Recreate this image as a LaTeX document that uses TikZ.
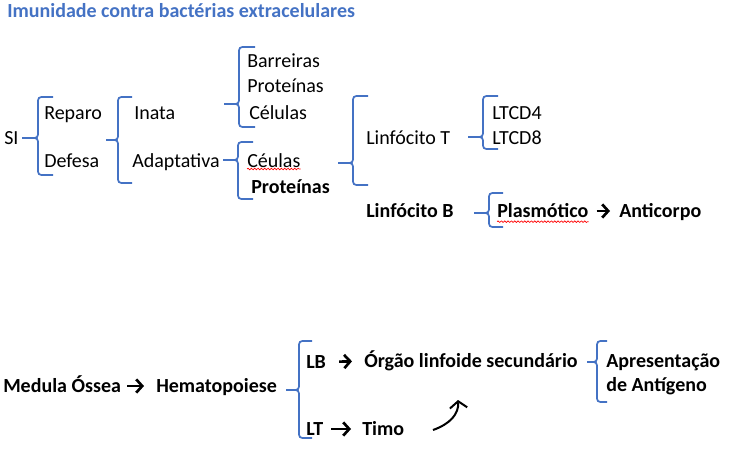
\documentclass[tikz,border=0pt]{standalone}
\usepackage{fontspec}
\setmainfont{Carlito}
\usetikzlibrary{arrows.meta,decorations.pathmorphing}
\definecolor{azul}{HTML}{4472C4}
\begin{document}
\begin{tikzpicture}[x=0.75pt,y=-0.75pt,
	texto/.style={inner sep=0pt,anchor=base west,font=\fontsize{15}{18}\selectfont,text height=11pt,text depth=2pt},
	negrito/.style={texto,font=\fontsize{15}{18}\selectfont\bfseries},
	chave/.style={azul,line width=1.3pt,rounded corners=2.5pt},
	seta/.style={line width=2pt,-{Straight Barb[length=4.5pt,width=10pt,line join=miter]}},
	curva/.style={line width=1.5pt,-{Straight Barb[length=5pt,width=13pt]}},
	sublinhado/.style={red,line width=0.5pt,decorate,decoration={snake,amplitude=0.6pt,segment length=2.5pt}}]
\def\chave#1#2#3#4#5#6{% ponta, vertical, fim, topo, meio, base
	\draw[chave] (#3,#4) -| (#2,#5) -- (#1,#5);
	\draw[chave] (#1,#5) -- (#2,#5) |- (#3,#6);}
\useasboundingbox (0,0) rectangle (731,467);
\node[negrito,text=azul] (titulo) at (7,18) {Imunidade contra bactérias extracelulares};
% parte de cima
\node[texto] (si) at (4,144) {SI};
\node[texto] (reparo) at (44,119) {Reparo};
\node[texto] (defesa) at (44,167) {Defesa};
\node[texto] (inata) at (134,119) {Inata};
\node[texto] (adapt) at (132,167) {Adaptativa};
\node[texto] (barreiras) at (247,68) {Barreiras};
\node[texto] (proteinas) at (247,93) {Proteínas};
\node[texto] (celulas) at (249,119) {Células};
\node[texto] (ceulas) at (247,167) {Céulas};
\node[negrito] (proteinasb) at (251,193) {Proteínas};
\node[texto] (linfT) at (366,144) {Linfócito T};
\node[texto] (ltcd4) at (492,119) {LTCD4};
\node[texto] (ltcd8) at (492,144) {LTCD8};
\node[negrito] (linfB) at (366,217) {Linfócito B};
\node[negrito] (plasm) at (497,217) {Plasmótico};
\node[negrito] (anticorpo) at (619,217) {Anticorpo};
\chave{22}{38}{53}{97}{138}{175} %SI
\chave{106}{118}{132}{97}{140}{183} %reparo/defesa
\chave{224}{239}{255}{47}{104}{127} %inata
\chave{223}{238}{253}{142}{160}{199} %adaptativa
\chave{338}{353}{368}{96}{163}{185} %linfocitos
\chave{468}{483}{498}{96}{137}{149} %LT
\chave{474}{489}{503}{193}{213}{227} %LB
\draw[seta,shorten <=6pt,shorten >=6.75pt] (plasm.east) -- (anticorpo.west);
\draw[sublinhado] ([yshift=-1.5pt]ceulas.base west) -- ([yshift=-1.5pt]ceulas.base east);
\draw[sublinhado] ([yshift=-3.5pt]plasm.base west) -- ([yshift=-3.5pt]plasm.base east);
% parte de baixo
\node[negrito] (medula) at (3,392) {Medula Óssea};
\node[negrito] (hemato) at (156,392) {Hematopoiese};
\node[negrito] (lb) at (306,368) {LB};
\node[negrito] (orgao) at (364,367) {Órgão linfoide secundário};
\node[negrito] (lt) at (306,435) {LT};
\node[negrito] (timo) at (362,435) {Timo};
\node[negrito,anchor=north west,align=left,text height=,text depth=] (apres) at (606,354) {Apresentação\\de Antígeno};
\chave{286}{299}{312}{341}{390}{438} %hematopoiese
\chave{587}{597}{607}{341}{362}{402} %orgao
\draw[seta,shorten <=4.5pt,shorten >=9pt] (medula.east) -- (hemato.west);
\draw[seta,shorten <=9.75pt,shorten >=9pt] (lb.east) -- (orgao.west);
\draw[seta,shorten <=6pt,shorten >=8.25pt] (lt.east) -- (timo.west);
\coordinate (c1) at (433,430);
\coordinate (c2) at (458,400);
\draw[curva] (c1) .. controls (450,424) and (459,414) .. (c2);
\end{tikzpicture}
\end{document}
